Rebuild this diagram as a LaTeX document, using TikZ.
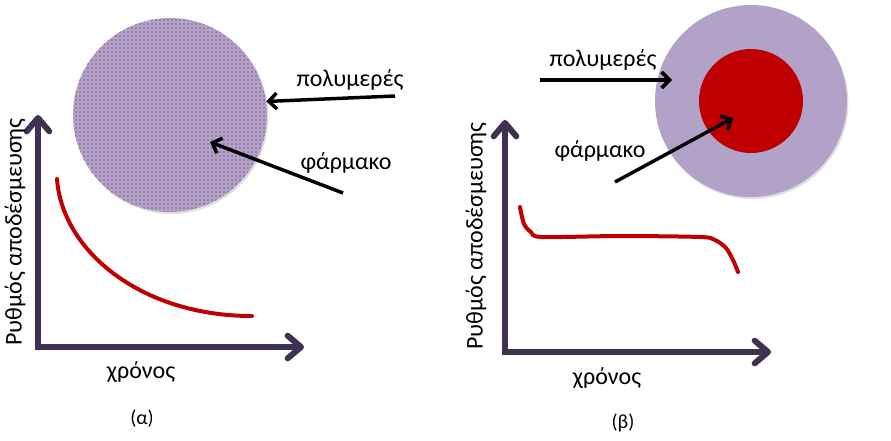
\documentclass[tikz,border=0pt]{standalone}
\usepackage{fontspec}
\setmainfont{Carlito}
\usepackage{tikz}
\usetikzlibrary{positioning}
\usetikzlibrary{arrows.meta}
\usetikzlibrary{patterns}
\usetikzlibrary{shadows}

\definecolor{lilac}{RGB}{178,162,199}
\definecolor{dotpurple}{RGB}{95,0,60}
\definecolor{axispurple}{RGB}{64,49,82}
\definecolor{drugred}{RGB}{192,0,0}

\begin{document}
\begin{tikzpicture}[x=0.75pt,y=-0.75pt,
	label text/.style={font=\fontsize{18}{21}\selectfont},
	caption text/.style={font=\fontsize{15}{18}\selectfont},
	sphere/.style={circle,inner sep=0pt,
		drop shadow={shadow xshift=1pt,shadow yshift=-1.5pt,opacity=0.25}},
	pointer/.style={black,line width=2.6pt,
		-{Straight Barb[length=6pt,width=12pt,line width=2.6pt]}},
	axis/.style={axispurple,line width=4.5pt,
		{Straight Barb[length=10pt,width=17pt,round]}-{Straight Barb[length=10pt,width=17pt,round]}},
	release/.style={drugred,line width=3pt,line cap=round,line join=round}]
	
	\useasboundingbox (0,0) rectangle (891,440);
	
	% (a) matrix system
	\node[sphere,minimum size=145.5pt,fill=lilac,
		postaction={pattern=dots,pattern color=dotpurple}] (poly1) at (170,115) {};
	\node[label text] (polylbl1) at (350,80) {πολυμερές};
	\node[label text] (druglbl1) at (346,163) {φάρμακο};
	\coordinate (polytail1) at (395,96);
	\coordinate (drugtail1) at (343,193);
	\coordinate (drughead1) at (210,142);
	\draw[pointer] (polytail1) -- (poly1.8);
	\draw[pointer] (drugtail1) -- (drughead1);
	
	\coordinate (o1) at (38,347);
	\coordinate (ytip1) at (38,115);
	\coordinate (xtip1) at (304,347);
	\draw[axis] (ytip1) -- (o1) -- (xtip1);
	\node[label text,rotate=90] (ratelbl1) at (15,232) {Ρυθμός αποδέσμευσης};
	\node[label text] (timelbl1) at (141,372) {χρόνος};
	\draw[release] (57,179) .. controls (62,250) and (140,316) .. (252,316);
	\node[caption text] (cap1) at (142,419) {(α)};
	
	% (b) reservoir system
	\node[sphere,minimum size=144pt,fill=lilac] (poly2) at (751,101) {};
	\node[circle,inner sep=0pt,minimum size=78pt,fill=drugred] (core2) at (751,101) {};
	\node[label text] (polylbl2) at (603,60) {πολυμερές};
	\node[label text] (druglbl2) at (600,151) {φάρμακο};
	\coordinate (polytail2) at (540,80);
	\coordinate (polyhead2) at (672,80);
	\coordinate (drugtail2) at (615,182);
	\coordinate (drughead2) at (733,118);
	\draw[pointer] (polytail2) -- (polyhead2);
	\draw[pointer] (drugtail2) -- (drughead2);
	
	\coordinate (o2) at (505,352);
	\coordinate (ytip2) at (505,120);
	\coordinate (xtip2) at (771,352);
	\draw[axis] (ytip2) -- (o2) -- (xtip2);
	\node[label text,rotate=90] (ratelbl2) at (476,236) {Ρυθμός αποδέσμευσης};
	\node[label text] (timelbl2) at (607,378) {χρόνος};
	\draw[release] plot[smooth,tension=0.5] coordinates {(520,207) (524,224) (531,232) (542,237)
		(620,236) (700,237) (715,240) (726,248) (733,260) (738,272)};
	\node[caption text] (cap2) at (623,423) {(β)};
\end{tikzpicture}
\end{document}
